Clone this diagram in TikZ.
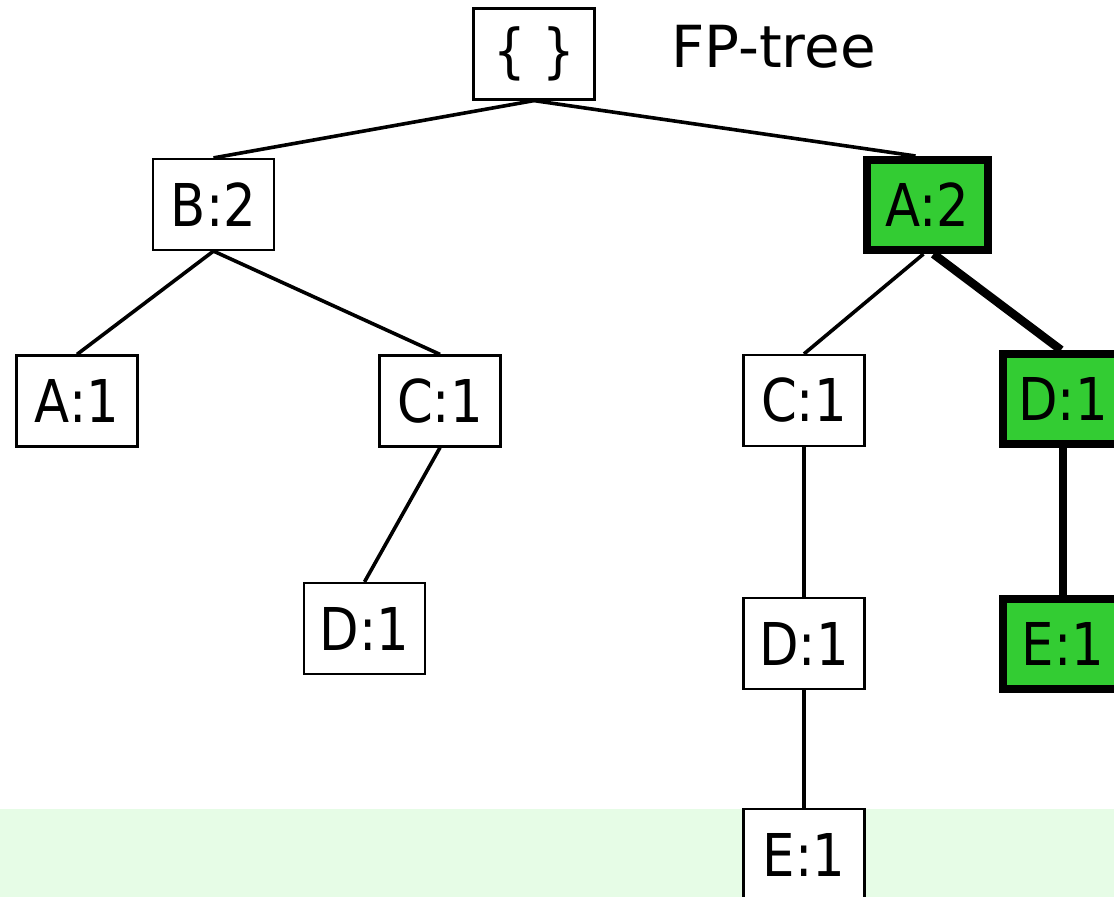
\documentclass[tikz,border=0pt]{standalone}
\usepackage{fontspec}
\setmainfont{DejaVu Sans}
\newfontfamily\nodefont[FakeStretch=0.87]{DejaVu Sans}
\definecolor{hlgreen}{HTML}{33CC33}
\definecolor{bandgreen}{HTML}{E6FCE6}
\begin{document}
\begin{tikzpicture}[x=1pt,y=-1pt,
  treebox/.style={draw=black, line width=2.2pt, fill=white, minimum width=121pt, minimum height=91pt, inner sep=0pt, font=\nodefont\fontsize{59}{60}\selectfont},
  hlbox/.style={treebox, fill=hlgreen, line width=8pt, minimum height=90pt},
  edge/.style={line width=3.6pt},
  hledge/.style={line width=8.5pt}]
\useasboundingbox (0,0) rectangle (1114,897);
\fill[bandgreen] (0,809) rectangle (1114,897);
% nodes
\node[treebox] (root) at (534,54) {\{ \}};
\node[anchor=base west, inner sep=0pt, font=\fontsize{58}{60}\selectfont] (title) at (671,67) {FP-tree};
\node[treebox] (B2) at (213.5,204.5) {B:2};
\node[hlbox] (A2) at (927.5,205) {A:2};
\node[treebox] (A1) at (77,401) {A:1};
\node[treebox] (C1l) at (440,401) {C:1};
\node[treebox] (C1r) at (804,400.5) {C:1};
\node[hlbox] (D1g) at (1063,399) {D:1};
\node[treebox] (D1l) at (364.5,628.5) {D:1};
\node[treebox] (D1m) at (804,643.5) {D:1};
\node[hlbox] (E1g) at (1063,643.5) {E:1};
\node[treebox] (E1m) at (804,854.5) {E:1};
% edges
\draw[edge] (root.south) -- (B2.north);
\draw[edge] (root.south) -- ([xshift=-12pt]A2.north);
\draw[edge] (B2.south) -- (A1.north);
\draw[edge] (B2.south) -- (C1l.north);
\draw[edge] ([xshift=-4pt]A2.south) -- (C1r.north);
\draw[hledge] ([xshift=6pt]A2.south) -- ([xshift=-2pt]D1g.north);
\draw[edge] (C1l.south) -- (D1l.north);
\draw[edge] (C1r.south) -- (D1m.north);
\draw[edge] (D1m.south) -- (E1m.north);
\draw[hledge] (D1g.south) -- (E1g.north);
\end{tikzpicture}
\end{document}
